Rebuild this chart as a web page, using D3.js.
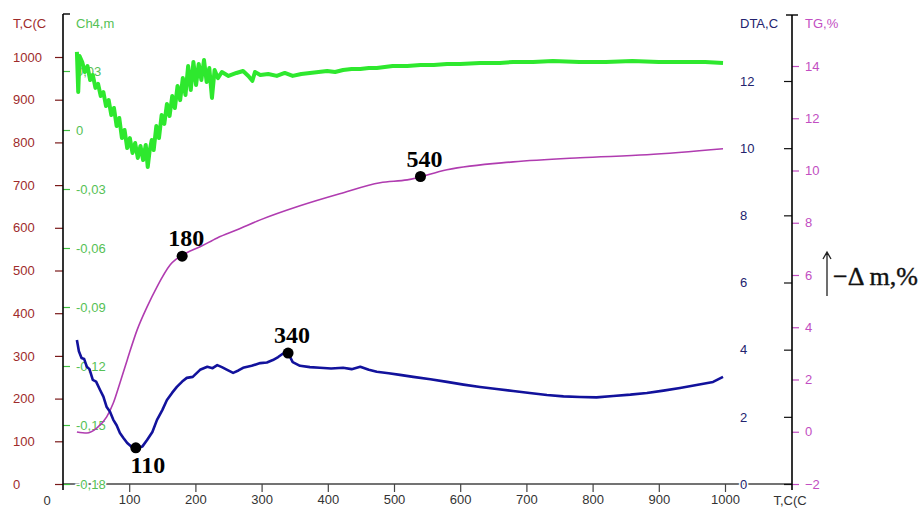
<!DOCTYPE html>
<html>
<head>
<meta charset="utf-8">
<script src="https://cdn.jsdelivr.net/npm/d3@7"></script>
<style>
  html, body { margin: 0; padding: 0; background: #fff; }
  svg { display: block; }
</style>
</head>
<body>
<svg id="chart" width="924" height="508" font-family="'Liberation Sans', Arial, sans-serif"></svg>
<script>
// Furnace temperature ticks (left axis and bottom axis)
const tempTicks = [0, 100, 200, 300, 400, 500, 600, 700, 800, 900, 1000];
const xTicks = [100, 200, 300, 400, 500, 600, 700, 800, 900, 1000];

// CH4 signal axis
const chTicks = [0.03, 0, -0.03, -0.06, -0.09, -0.12, -0.15, -0.18];
const chTickLabels = ["0,03", "0", "-0,03", "-0,06", "-0,09", "-0,12", "-0,15", "-0,18"];

// DTA and TG axes
const dtaTicks = [0, 2, 4, 6, 8, 10, 12];
const tgTicks = [-2, 0, 2, 4, 6, 8, 10, 12, 14];

// CH4 evolution curve
const chTemp = [21, 23, 25, 29, 33, 37, 41, 45, 49, 53, 57, 61, 65, 69, 73, 77, 81, 85, 89, 93,
  97, 101, 105, 109, 113, 117, 121, 125, 128, 131, 134, 137, 141, 145, 149, 153, 157, 161, 165, 169,
  173, 177, 181, 185, 189, 193, 197, 201, 205, 209, 213, 217, 221, 225, 229, 234, 240, 250, 262, 272,
  280, 286, 290, 298, 310, 323, 335, 347, 360, 373, 386, 399, 411, 423, 436, 449, 462, 474, 486, 498,
  520, 540, 560, 580, 600, 630, 660, 680, 710, 740, 780, 820, 860, 900, 940, 970, 997];
const chVal = [0.0397, 0.0193, 0.0376, 0.0346, 0.0295, 0.0325, 0.0254, 0.0280, 0.0214, 0.0234,
  0.0173, 0.0193, 0.0122, 0.0152, 0.0076, 0.0112, 0.0020, 0.0061, -0.0041, 0.0000,
  -0.0092, -0.0041, -0.0117, -0.0066, -0.0142, -0.0081, -0.0153, -0.0076, -0.0188, -0.0102,
  -0.0051, -0.0102, 0.0020, -0.0041, 0.0076, 0.0031, 0.0132, 0.0071, 0.0173, 0.0112,
  0.0224, 0.0152, 0.0264, 0.0178, 0.0325, 0.0203, 0.0346, 0.0229, 0.0336, 0.0254,
  0.0356, 0.0244, 0.0315, 0.0163, 0.0305, 0.0264, 0.0295, 0.0275, 0.0290, 0.0300,
  0.0275, 0.0250, 0.0295, 0.0280, 0.0285, 0.0275, 0.0290, 0.0275, 0.0285, 0.0290,
  0.0295, 0.0300, 0.0295, 0.0305, 0.0310, 0.0310, 0.0315, 0.0315, 0.0320, 0.0325,
  0.0325, 0.0330, 0.0330, 0.0336, 0.0336, 0.0341, 0.0341, 0.0346, 0.0346, 0.0351,
  0.0346, 0.0346, 0.0351, 0.0346, 0.0346, 0.0346, 0.0341];

// TG (mass change) curve
const tgTemp = [21, 36, 51, 66, 76, 86, 97, 112, 127, 142, 162, 187, 207, 233, 263, 298, 358, 418,
  479, 520, 580, 680, 781, 882, 997];
const tgVal = [-0.01, -0.05, 0.14, 0.57, 1.10, 1.87, 2.75, 3.90, 4.78, 5.55, 6.39, 6.85, 7.08, 7.42,
  7.73, 8.11, 8.65, 9.11, 9.53, 9.64, 10.03, 10.33, 10.49, 10.60, 10.83];

// DTA curve
const dtaTemp = [21, 24, 28, 32, 36, 40, 45, 50, 56, 61, 66, 71, 76, 81, 86, 91, 97, 104, 112, 120,
  127, 135, 142, 150, 157, 165, 172, 180, 187, 196, 207, 218, 226, 233, 240, 248, 257, 265, 272, 285,
  298, 308, 317, 325, 332, 340, 347, 358, 373, 388, 405, 423, 436, 449, 462, 474, 492, 509, 529, 555,
  580, 605, 630, 655, 680, 705, 731, 756, 781, 806, 831, 857, 882, 907, 932, 957, 982, 997];
const dtaVal = [4.29, 3.95, 3.75, 3.72, 3.49, 3.42, 3.10, 3.05, 2.80, 2.60, 2.29, 2.15, 1.91, 1.75,
  1.52, 1.38, 1.22, 1.10, 1.07, 1.12, 1.31, 1.55, 1.91, 2.20, 2.50, 2.72, 2.89, 3.05, 3.16, 3.19,
  3.40, 3.49, 3.45, 3.54, 3.48, 3.40, 3.31, 3.38, 3.46, 3.52, 3.60, 3.62, 3.69, 3.78, 3.88, 3.90,
  3.63, 3.52, 3.48, 3.46, 3.44, 3.46, 3.42, 3.49, 3.40, 3.34, 3.30, 3.25, 3.19, 3.12, 3.04, 2.96,
  2.89, 2.83, 2.77, 2.71, 2.65, 2.61, 2.59, 2.58, 2.62, 2.66, 2.71, 2.78, 2.86, 2.95, 3.04, 3.19];

// Marked temperatures and the curve each one sits on
const markTemps = [110, 180, 340, 540];
const markCurve = ["dta", "tg", "dta", "tg"];

const svg = d3.select("#chart");
svg.append("rect").attr("width", 924).attr("height", 508).attr("fill", "#fff");

const x = d3.scaleLinear().domain([0, 1000]).range([63, 725]);
const yT = d3.scaleLinear().domain([0, 1000]).range([484, 57]);
const yCh = d3.scaleLinear().domain([-0.18, 0.03]).range([484, 71]);
const yDta = d3.scaleLinear().domain([0, 12]).range([484, 81]);
const yTg = d3.scaleLinear().domain([-2, 14]).range([484, 66]);

const sans = "'Liberation Sans', Arial, sans-serif";
const serif = "'Liberation Serif', 'Times New Roman', serif";
const colRed = "#9e2b2b", colGreenTxt = "#55c155", colNavy = "#23236e", colMag = "#c24ec2";

function styleAxis(g, col, tickCol) {
  g.attr("font-family", sans);
  g.select(".domain").remove();
  g.selectAll(".tick line").attr("stroke", tickCol).attr("stroke-width", 1.2);
  g.selectAll(".tick text").attr("fill", col).attr("font-size", 13);
}

// Bottom axis line
svg.append("line").attr("x1", 63).attr("x2", 792).attr("y1", 484).attr("y2", 484)
  .attr("stroke", "#444").attr("stroke-width", 1.5);

// Left: furnace temperature
const gT = svg.append("g").attr("transform", "translate(63,0)")
  .call(d3.axisLeft(yT).tickValues(tempTicks).tickSize(8).tickFormat(d3.format("d")));
styleAxis(gT, colRed, "#7a1a1a");
gT.selectAll(".tick text").attr("x", -50).attr("text-anchor", "start");

// Left: CH4
const gCh = svg.append("g").attr("transform", "translate(63,0)")
  .call(d3.axisRight(yCh).tickValues(chTicks).tickSize(7)
    .tickFormat((d, i) => chTickLabels[i]));
styleAxis(gCh, colGreenTxt, "#3fbf3f");
gCh.selectAll(".tick text").attr("x", 13).attr("text-anchor", "start")
  .attr("stroke", "#fff").attr("stroke-width", 3).attr("paint-order", "stroke");

// Bottom: temperature
const gX = svg.append("g").attr("transform", "translate(0,484)")
  .call(d3.axisBottom(x).tickValues(xTicks).tickSize(8).tickFormat(d3.format("d")));
styleAxis(gX, "#333", "#444");
gX.selectAll(".tick text").attr("y", 11);
svg.append("text").attr("x", 47).attr("y", 505).attr("text-anchor", "middle")
  .attr("font-size", 13).attr("fill", "#333").text("0");

// Right: DTA
const gD = svg.append("g").attr("transform", "translate(792,0)")
  .call(d3.axisLeft(yDta).tickValues(dtaTicks).tickSize(8).tickFormat(d3.format("d")));
styleAxis(gD, colNavy, "#111");
gD.selectAll(".tick text").attr("x", -52).attr("text-anchor", "start")
  .attr("stroke", "#fff").attr("stroke-width", 3).attr("paint-order", "stroke");

// Right: TG
const gG = svg.append("g").attr("transform", "translate(792,0)")
  .call(d3.axisRight(yTg).tickValues(tgTicks).tickSize(7).tickFormat(d3.format("d")));
styleAxis(gG, colMag, "#c24ec2");
gG.selectAll(".tick text").attr("x", 13).attr("text-anchor", "start")
  .attr("stroke", "#fff").attr("stroke-width", 3).attr("paint-order", "stroke");

// Axis spines with a short cap at the top
svg.append("line").attr("x1", 63).attr("x2", 63).attr("y1", 14).attr("y2", 490)
  .attr("stroke", "#000").attr("stroke-width", 1.6);
svg.append("line").attr("x1", 63).attr("x2", 70).attr("y1", 14).attr("y2", 14)
  .attr("stroke", "#000").attr("stroke-width", 1.4);
svg.append("line").attr("x1", 792).attr("x2", 792).attr("y1", 15).attr("y2", 490)
  .attr("stroke", "#000").attr("stroke-width", 1.6);
svg.append("line").attr("x1", 786).attr("x2", 798).attr("y1", 15).attr("y2", 15)
  .attr("stroke", "#000").attr("stroke-width", 1.4);

// Axis titles
const titles = [
  { t: "T,C(C", x: 13, y: 28, c: colRed, a: "start" },
  { t: "Ch4,m", x: 76, y: 28, c: colGreenTxt, a: "start" },
  { t: "DTA,C", x: 740, y: 28, c: colNavy, a: "start" },
  { t: "TG,%", x: 805, y: 28, c: colMag, a: "start" },
  { t: "T,C(C", x: 790, y: 505, c: "#333", a: "middle" }
];
svg.selectAll("text.title").data(titles).enter().append("text").attr("class", "title")
  .attr("x", d => d.x).attr("y", d => d.y).attr("text-anchor", d => d.a)
  .attr("font-size", 13).attr("fill", d => d.c).text(d => d.t);

// Curves
const chData = chTemp.map((t, i) => [t, chVal[i]]);
const tgData = tgTemp.map((t, i) => [t, tgVal[i]]);
const dtaData = dtaTemp.map((t, i) => [t, dtaVal[i]]);

svg.append("path").datum(chData)
  .attr("d", d3.line().x(d => x(d[0])).y(d => yCh(d[1])))
  .attr("fill", "none").attr("stroke", "#2ee82e").attr("stroke-width", 4)
  .attr("stroke-linejoin", "round");

svg.append("path").datum(tgData)
  .attr("d", d3.line().curve(d3.curveMonotoneX).x(d => x(d[0])).y(d => yTg(d[1])))
  .attr("fill", "none").attr("stroke", "#b03cb0").attr("stroke-width", 1.6);

svg.append("path").datum(dtaData)
  .attr("d", d3.line().x(d => x(d[0])).y(d => yDta(d[1])))
  .attr("fill", "none").attr("stroke", "#12129c").attr("stroke-width", 2.6)
  .attr("stroke-linejoin", "round");

// Marked points, placed on their curves at the labelled temperature
function interp(tArr, vArr, t) {
  const i = Math.max(1, Math.min(tArr.length - 1, d3.bisectLeft(tArr, t)));
  const t0 = tArr[i - 1], t1 = tArr[i];
  const f = (t - t0) / (t1 - t0);
  return vArr[i - 1] + f * (vArr[i] - vArr[i - 1]);
}
const marks = markTemps.map((t, i) => {
  const isTg = markCurve[i] === "tg";
  const v = isTg ? interp(tgTemp, tgVal, t) : interp(dtaTemp, dtaVal, t);
  return { t, px: x(t), py: isTg ? yTg(v) : yDta(v), below: t === 110 };
});
svg.selectAll("circle.mark").data(marks).enter().append("circle").attr("class", "mark")
  .attr("cx", d => d.px).attr("cy", d => d.py).attr("r", 5.5).attr("fill", "#000");
svg.selectAll("text.mark").data(marks).enter().append("text").attr("class", "mark")
  .attr("x", d => d.px + (d.below ? 12 : 4))
  .attr("y", d => d.py + (d.below ? 25 : -10))
  .attr("text-anchor", "middle")
  .attr("font-family", serif)
  .attr("font-weight", "bold").attr("font-size", 24).attr("fill", "#000")
  .text(d => d.t);

// Mass-loss direction note
svg.append("path").attr("d", "M827,296 L827,252 M823,259 L827,252 L831,259")
  .attr("fill", "none").attr("stroke", "#222").attr("stroke-width", 1.3);
svg.append("text").attr("x", 833).attr("y", 285)
  .attr("font-family", serif)
  .attr("font-size", 26).attr("fill", "#111")
  .attr("stroke", "#111").attr("stroke-width", 0.4)
  .text("\u2212\u0394 m,%");
</script>
</body>
</html>
